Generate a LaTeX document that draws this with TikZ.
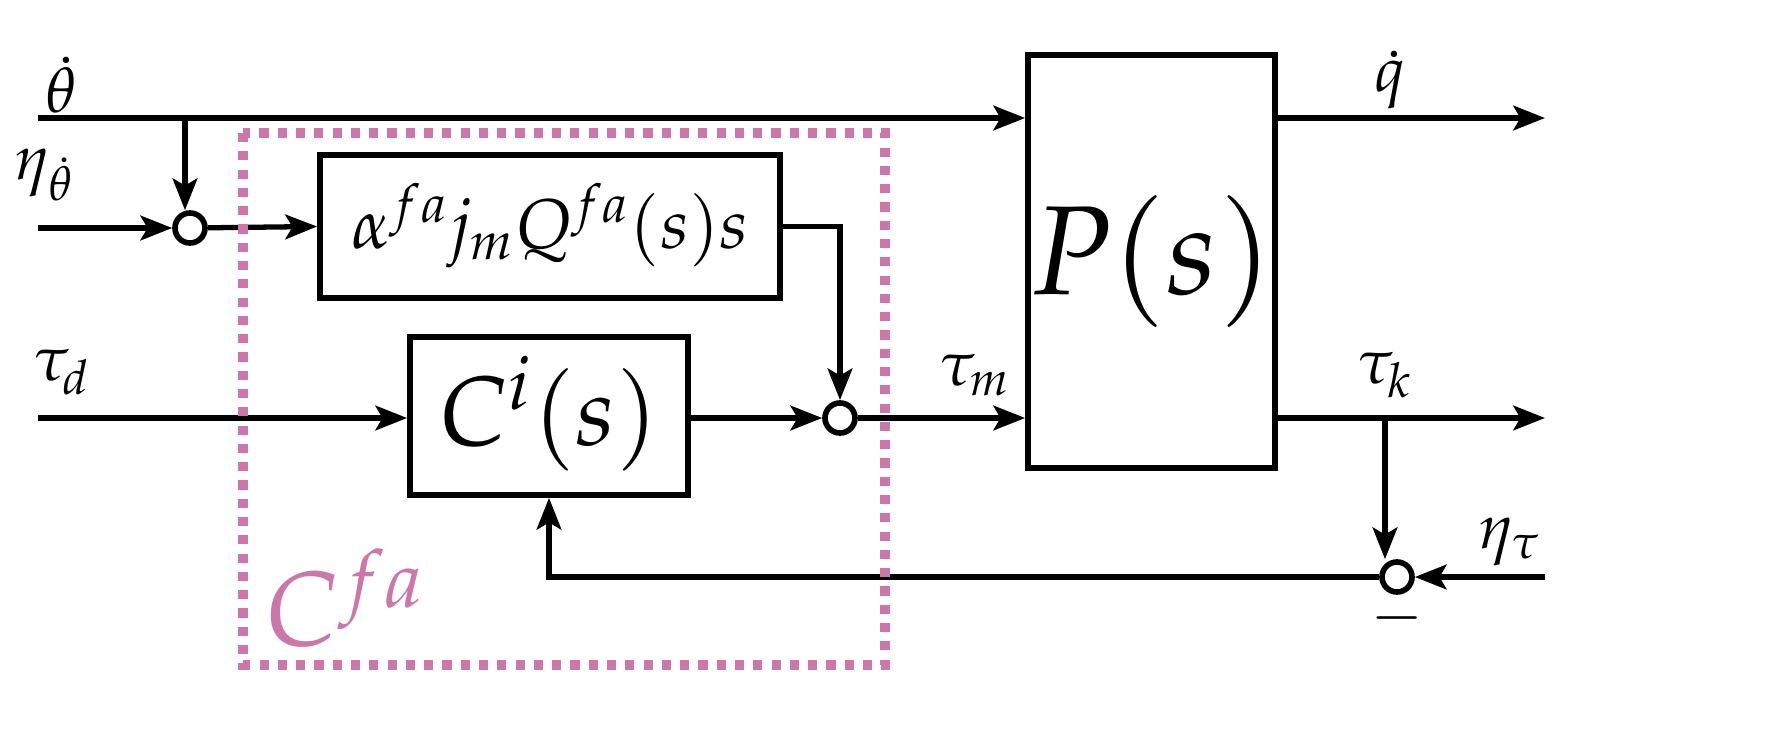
\documentclass[tikz,border=0pt]{standalone}
\usepackage{mathpazo}
\usetikzlibrary{arrows.meta}
\begin{document}
\begin{tikzpicture}[x=0.01cm,y=-0.01cm,
  line width=1.5pt,
  arr/.style={-{Stealth[length=9pt,width=7pt,inset=2pt]}},
  blk/.style={draw,line width=1.6pt,inner sep=0},
  sum/.style={draw,circle,line width=1.6pt,minimum size=0.3cm,inner sep=0},
  lbl/.style={font=\fontsize{18}{22}\selectfont},
  pinkc/.style={color={rgb,255:red,204;green,119;blue,170}}]
\clip (0,0) rectangle (1790,751);
\node[blk,minimum width=2.47cm,minimum height=4.13cm] (P) at (1151.5,261.5) {};
\node[font=\fontsize{36}{42}\selectfont] (Pl) at (1151,262) {$P(s)$};
\node[blk,minimum width=2.78cm,minimum height=1.58cm] (C) at (549,416) {};
\node[font=\fontsize{28}{34}\selectfont] (Cl) at (549,414) {$C^{i}(s)$};
\node[blk,minimum width=4.6cm,minimum height=1.43cm] (A) at (550,226.5) {};
\node[font=\fontsize{20}{24}\selectfont] (Al) at (550,226) {$\alpha^{fa} j_m Q^{fa}(s)s$};
\node[sum] (s1) at (190,228) {};
\node[sum] (s2) at (840,418) {};
\node[sum] (s3) at (1397,577) {};
\coordinate (in1) at (38,118);
\coordinate (in2) at (38,228);
\coordinate (in3) at (38,418);
\coordinate (in4) at (1545,577);
\coordinate (o1) at (1545,118);
\coordinate (o2) at (1545,418);
\coordinate (b1) at (185,118);
\coordinate (b2) at (1385,418);
\draw[arr] (in1) -- (P.west |- in1);
\draw[arr] (b1) -- (s1.north -| b1);
\draw[arr] (in2) -- (s1);
\draw[arr] (s1) -- (A.west);
\draw[arr] (A.east) -| (s2.north);
\draw[arr] (in3) -- (C.west |- in3);
\draw[arr] (C.east |- s2) -- (s2);
\draw[arr] (s2) -- (P.west |- s2);
\draw[arr] (P.east |- o1) -- (o1);
\draw[arr] (P.east |- o2) -- (o2);
\draw[arr] (b2) -- (s3.north -| b2);
\draw[arr] (in4) -- (s3);
\draw[arr] (s3) -| (C.south);
\node[lbl] (t1) at (62,85) {$\dot\theta$};
\node[lbl] (t2) at (45,175) {$\eta_{\dot\theta}$};
\node[lbl] (t3) at (62,372) {$\tau_d$};
\node[lbl] (t4) at (975,375) {$\tau_m$};
\node[lbl] (t5) at (1390,80) {$\dot q$};
\node[lbl] (t6) at (1385,375) {$\tau_k$};
\node[lbl] (t7) at (1510,542) {$\eta_\tau$};
\node[lbl] (t8) at (1397,618) {$-$};
\draw[pinkc,line width=2.6pt,dash pattern=on 2.6pt off 2.6pt] (243,133) rectangle (885,665);
\node[pinkc,font=\fontsize{30}{36}\selectfont] (cf) at (345,598) {$C^{fa}$};
\end{tikzpicture}
\end{document}
